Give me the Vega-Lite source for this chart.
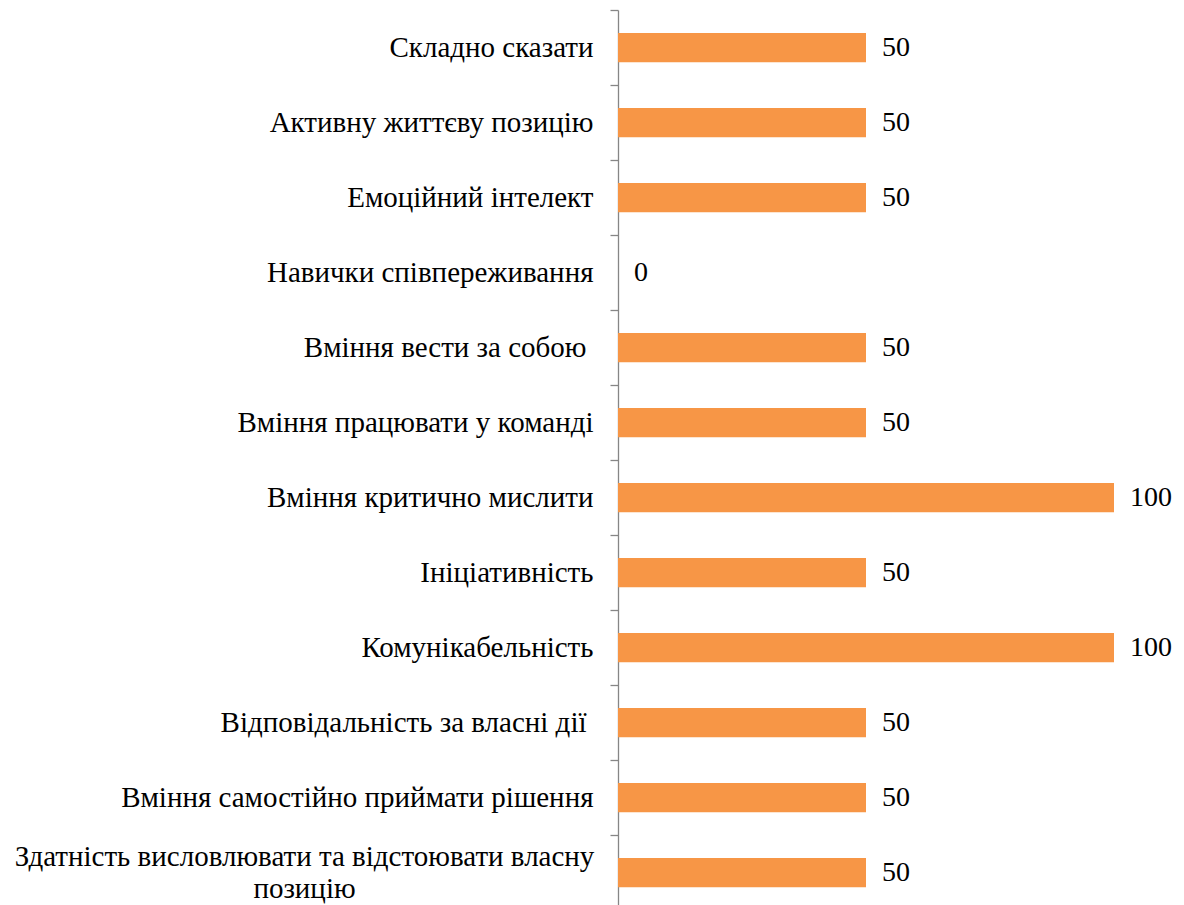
{
  "$schema": "https://vega.github.io/schema/vega-lite/v6.json",
  "autosize": {"type": "none"},
  "padding": {"left": 618, "top": 10, "right": 70, "bottom": 0},
  "width": 496,
  "height": 900,
  "background": "white",
  "config": {"view": {"stroke": null}, "font": "Liberation Serif"},
  "data": {
    "values": [
      {"label": "Складно сказати", "value": 50},
      {"label": "Активну життєву позицію", "value": 50},
      {"label": "Емоційний інтелект", "value": 50},
      {"label": "Навички співпереживання", "value": 0},
      {"label": "Вміння вести за собою ", "value": 50},
      {"label": "Вміння працювати у команді", "value": 50},
      {"label": "Вміння критично мислити", "value": 100},
      {"label": "Ініціативність", "value": 50},
      {"label": "Комунікабельність", "value": 100},
      {"label": "Відповідальність за власні дії ", "value": 50},
      {"label": "Вміння самостійно приймати рішення", "value": 50},
      {"label": "Здатність висловлювати та відстоювати власну|позицію", "value": 50}
    ]
  },
  "encoding": {
    "y": {
      "field": "label",
      "type": "nominal",
      "sort": null,
      "scale": {"paddingInner": 0, "paddingOuter": 0},
      "axis": {
        "title": null,
        "domainColor": "#868686",
        "domainWidth": 1.3,
        "tickColor": "#868686",
        "tickWidth": 1.3,
        "tickSize": 8,
        "tickBand": "extent",
        "grid": false,
        "labelFont": "Liberation Serif",
        "labelFontSize": 29,
        "labelColor": "black",
        "labelLimit": 0,
        "labelLineHeight": 32,
        "labelExpr": "datum.value ? split(datum.value, '|') : ''",
        "labelPadding": {
          "condition": [
            {"test": "indexof(datum.value || '', '|') >= 0", "value": 306},
            {"test": "(datum.value || '') == 'Вміння вести за собою ' || (datum.value || '') == 'Відповідальність за власні дії '", "value": 24}
          ],
          "value": 17
        },
        "labelAlign": {"condition": {"test": "indexof(datum.value || '', '|') >= 0", "value": "center"}, "value": "right"},
        "labelOffset": {"condition": {"test": "indexof(datum.value || '', '|') >= 0", "value": -16}, "value": 0}
      }
    },
    "x": {
      "field": "value",
      "type": "quantitative",
      "scale": {"domain": [0, 100]},
      "axis": null
    }
  },
  "layer": [
    {"mark": {"type": "bar", "color": "#F79646", "height": {"band": 0.39}}},
    {
      "mark": {"type": "text", "align": "left", "baseline": "middle", "dx": 16, "fontSize": 28, "font": "Liberation Serif", "color": "black"},
      "encoding": {"text": {"field": "value", "type": "quantitative"}}
    }
  ]
}
